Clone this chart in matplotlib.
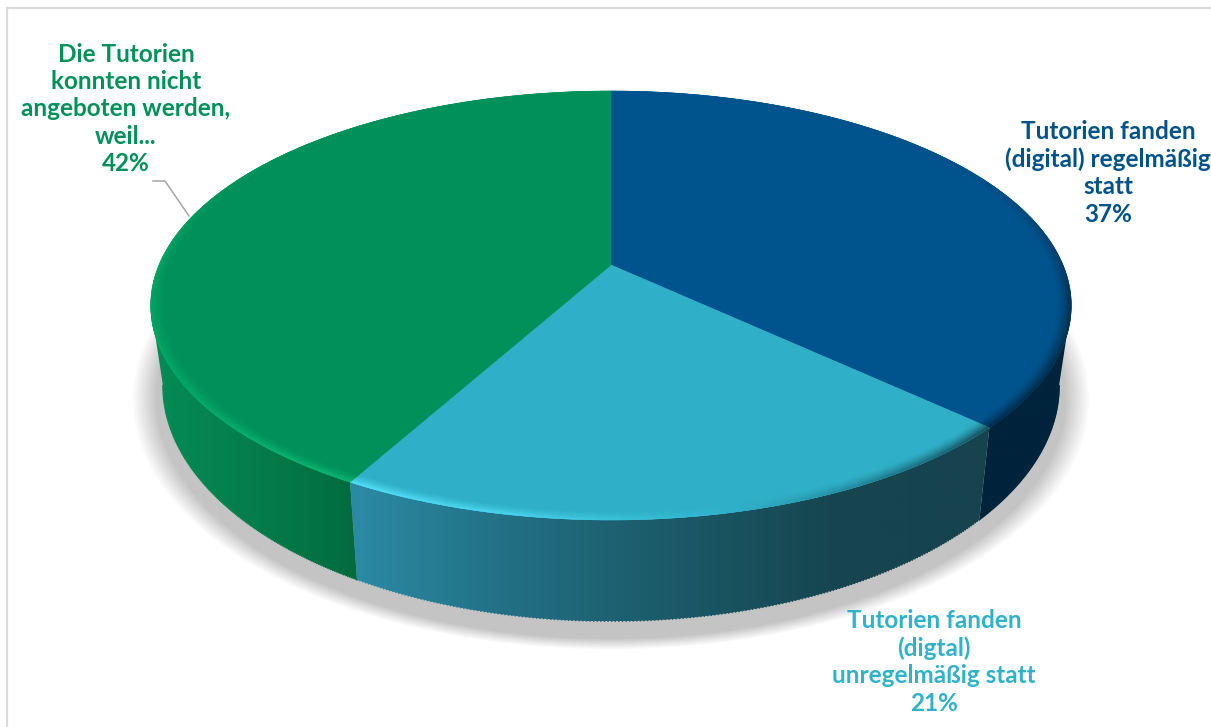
import numpy as np
from matplotlib import pyplot as plt
from matplotlib.collections import PolyCollection
from matplotlib.colors import LinearSegmentedColormap, to_rgb
from matplotlib.patches import Polygon

plt.rcParams['font.family'] = ['Lato', 'DejaVu Sans']

# slices clockwise from twelve o'clock
values = [37, 21, 42]
labels = ['Tutorien fanden\n(digital) regelmäßig\nstatt',
          'Tutorien fanden\n(digtal)\nunregelmäßig statt',
          'Die Tutorien\nkonnten nicht\nangeboten werden,\nweil...']
top_colors = ['#00548e', '#2fb0c8', '#009059']
text_colors = ['#00528a', '#30b2ca', '#00915a']
label_pos = [(1108, 173), (934, 662), (126, 109)]

# wall shading, left to right per slice
wall_colors = [['#00243c', '#00243c'],
               ['#2b8ba6', '#226f83', '#1b5a69', '#164650', '#16434e'],
               ['#058c56', '#047d4a', '#036b3e']]
# rim highlight along the outer edge: (angle, colour, strength)
rim_stops = [[(0, '#00548e', 0.0), (60, '#00487a', 0.3), (100, '#002a48', 0.9), (133, '#002a48', 1.0)],
             [(133, '#14454f', 1.0), (150, '#1b6a7c', 0.8), (170, '#33bcd4', 0.6), (190, '#4fdcf5', 0.9), (209, '#55e4fb', 1.0)],
             [(209, '#10b874', 1.0), (240, '#00ab66', 1.0), (275, '#00a864', 0.9), (300, '#009c5f', 0.3), (360, '#009059', 0.0)]]

CX = 611
PERSP = 0.1888
TOP = (452, 265, -156.8)
BOTTOM = (440, 341, -163)
SHADOW = (446, 352, -166)
VISIBLE = (100.9, 259.1)


def project(theta, shape, grow=0.0):
    '''circle angle (deg, clockwise from top) to pixel position'''
    radius, a, b = shape
    t = np.radians(theta)
    u, v = np.sin(t), np.cos(t)
    w = 1 + PERSP * v
    return CX + (radius + grow) * u / w, (a + b * v) / w + 0.45 * grow * (-v)


def rim_ring(theta, shape, frac):
    '''point on a circle of radius frac, pulled toward the pie centre'''
    radius, a, b = shape
    t = np.radians(theta)
    u, v = frac * np.sin(t), frac * np.cos(t)
    w = 1 + PERSP * v
    return CX + radius * u / w, (a + b * v) / w


def mix(c1, c2, t):
    return tuple((1 - t) * x + t * y for x, y in zip(c1, c2))


fig = plt.figure(figsize=(12.11, 7.27), dpi=100, facecolor='white')
ax = fig.add_axes([0, 0, 1, 1])
ax.set_xlim(0, 1211)
ax.set_ylim(727, 0)
ax.axis('off')

# chart frame
ax.plot([7, 7, 1211], [727, 8, 8], color='#d9d9d9', lw=1.6, zorder=1)

# soft ground shadow
th = np.linspace(0, 360, 361)
for grow in np.linspace(24, 0, 30):
    sx, sy = project(th, SHADOW, grow)
    ax.add_patch(Polygon(np.column_stack([sx, sy]), closed=True, fc='#707070',
                         ec='none', alpha=0.011, zorder=2))

# slice boundaries from the values
edges = np.concatenate([[0], np.cumsum(values) / np.sum(values) * 360])

# side walls
for i in range(len(values)):
    a0, a1 = max(edges[i], VISIBLE[0]), min(edges[i + 1], VISIBLE[1])
    if a1 <= a0:
        continue
    arc = np.linspace(a0, a1, 200)
    tx, ty = project(arc, TOP)
    bx, by = project(arc, BOTTOM)
    outline = np.column_stack([np.r_[tx, bx[::-1]], np.r_[ty, by[::-1]]])
    cmap = LinearSegmentedColormap.from_list('wall%d' % i, wall_colors[i])
    xmin, xmax = outline[:, 0].min(), outline[:, 0].max()
    img = ax.imshow(np.linspace(0, 1, 256)[None, :], cmap=cmap, aspect='auto',
                    extent=(xmin, xmax, outline[:, 1].max(), outline[:, 1].min()),
                    zorder=3, interpolation='bilinear')
    patch = Polygon(outline, closed=True, fc='none', ec='none', transform=ax.transData)
    ax.add_patch(patch)
    img.set_clip_path(patch)
    # smooth out the clipped lower edge
    seg = np.linspace(0, 1, len(bx))
    ax.scatter(bx, by, s=1.2, c=cmap((bx - xmin) / (xmax - xmin)), lw=0, zorder=3.1)
ax.set_xlim(0, 1211)
ax.set_ylim(727, 0)

# top face
cx0, cy0 = project(90.0, (0, TOP[1], TOP[2]))
center = (CX, TOP[1])
for i in range(len(values)):
    arc = np.linspace(edges[i], edges[i + 1], 300)
    px, py = project(arc, TOP)
    pts = np.vstack([center, np.column_stack([px, py])])
    ax.add_patch(Polygon(pts, closed=True, fc=top_colors[i], ec=top_colors[i], lw=0.4, zorder=4))

# bevel along the outer edge of the top face
fracs = np.linspace(0.968, 1.0, 11)
for i in range(len(values)):
    stops = rim_stops[i]
    angs = [s[0] for s in stops]
    rgb = np.array([to_rgb(s[1]) for s in stops])
    power = [s[2] for s in stops]
    base = to_rgb(top_colors[i])
    arc = np.arange(edges[i], edges[i + 1] + 0.5, 0.5)
    quads, cols = [], []
    for a, b in zip(arc[:-1], arc[1:]):
        a, b = a, min(b, edges[i + 1])
        mid = (a + b) / 2
        edge_col = tuple(np.interp(mid, angs, rgb[:, k]) for k in range(3))
        strength = np.interp(mid, angs, power)
        for f0, f1 in zip(fracs[:-1], fracs[1:]):
            t = ((f0 + f1) / 2 - fracs[0]) / (fracs[-1] - fracs[0])
            quads.append(np.array([rim_ring(a, TOP, f0), rim_ring(b, TOP, f0),
                                   rim_ring(b, TOP, f1), rim_ring(a, TOP, f1)]))
            cols.append(mix(base, edge_col, strength * t ** 1.5))
    ax.add_collection(PolyCollection(quads, facecolors=cols, edgecolors=cols, linewidths=0.3, zorder=5))

# leader line for the left label
ax.plot([153, 165, 189], [181, 181, 216], color='#a6a6a6', lw=1.1, zorder=6)

# data labels
for i in range(len(values)):
    ax.text(label_pos[i][0], label_pos[i][1], '%s\n%d%%' % (labels[i], values[i]),
            color=text_colors[i], fontsize=17.5, fontweight='bold', ha='center',
            va='center', linespacing=1.22, zorder=7)

fig.savefig('out.png', dpi=100)
